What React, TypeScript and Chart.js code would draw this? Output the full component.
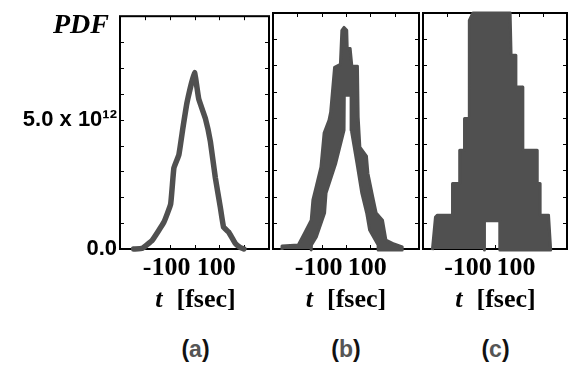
import React, { useEffect, useRef } from "react";
import { Chart, registerables } from "chart.js";

Chart.register(...registerables);

// ---------- data (t in fsec, PDF in units of 10^12) ----------
const UNIT = 1e12;

// panel (a): smooth PDF
const aT = [-245, -210, -170, -123, -96, -83, -63, -47, -30, 0, 17, 44, 64, 84, 104, 117, 137, 164, 184, 199];
const aPdf = [0, 0.03, 0.34, 1.04, 1.74, 3.13, 3.64, 4.66, 5.67, 6.82, 5.8, 5.04, 4.15, 2.75, 1.61, 0.85, 0.66, 0.22, 0.06, 0];

// panel (b): outline of the jagged band (outer edge, then inner edge)
const bT = [-263, -263, -196, -170, -143, -136, -123, -103, -90, -70, -63, -47, -23, -17, -8, 3, 5, 17, 24, 47, 50, 57, 84, 90, 110, 124, 150, 164, 197, 231, 231,
  132, 132, 97, 85, 65, 45, 22, 21, -7, -8, -42, -82, -88, -122, -142, -143];
const bPdf = [-0.04, 0.11, 0.15, 0.61, 1.10, 1.87, 2.36, 3.12, 4.42, 4.91, 5.22, 6.93, 7.04, 8.34, 8.45, 8.34, 7.65, 7.65, 6.97, 6.97, 5.03, 3.88, 3.54, 2.89, 1.98, 1.37, 1.10, 0.34, 0.19, 0.08, -0.04,
  -0.04, 0.15, 0.72, 1.37, 2.13, 3.27, 4.53, 5.86, 5.86, 4.53, 3.27, 2.13, 1.37, 0.46, 0.15, -0.04];

// panel (c): outline of the stepped filled envelope, with the gap near the base
const cT = [-261, -248, -240, -177, -177, -147, -147, -127, -127, -107, -107, -92, 63, 67, 67, 87, 87, 113, 116, 176, 176, 188, 188, 223, 232,
  20, 20, -44, -44];
const cPdf = [-0.04, 1.22, 1.29, 1.29, 2.50, 2.50, 3.77, 3.77, 4.98, 4.98, 8.72, 9.0, 9.0, 7.39, 7.39, 7.39, 6.18, 6.18, 3.77, 3.77, 2.50, 2.50, 1.29, 1.29, -0.04,
  -0.04, 1.08, 1.08, -0.04];

const xTickLabels: Record<string, string> = { "-100": "-100", "100": "100" };
const yTickLabels: Record<string, string> = { "0": "0.0", "5": "5.0 x 10\u00B9\u00B2" };
const panelLetters = ["a", "b", "c"];

// ---------- layout ----------
const GRAY = "#505050";
const PANELS = [
  { left: 120, right: 271 },
  { left: 271, right: 421 },
  { left: 421, right: 570 },
];
const AREA_TOP = 13;
const AREA_BOTTOM = 249;
const CANVAS_H = 300;

const framePlugin = {
  id: "frameTicks",
  beforeDatasetsDraw(chart: any) {
    const { ctx, chartArea: a, scales } = chart;
    ctx.save();
    ctx.strokeStyle = "#000";
    ctx.lineWidth = 2;
    ctx.strokeRect(a.left, a.top, a.right - a.left, a.bottom - a.top);
    ctx.lineWidth = 1;
    ctx.beginPath();
    for (const t of scales.x.ticks) {
      const px = Math.round(scales.x.getPixelForValue(t.value)) + 0.5;
      ctx.moveTo(px, a.bottom);
      ctx.lineTo(px, a.bottom - 4);
      ctx.moveTo(px, a.top);
      ctx.lineTo(px, a.top + 4);
    }
    for (const t of scales.y.ticks) {
      const py = Math.round(scales.y.getPixelForValue(t.value)) + 0.5;
      ctx.moveTo(a.left, py);
      ctx.lineTo(a.left + 4, py);
      ctx.moveTo(a.right, py);
      ctx.lineTo(a.right - 4, py);
    }
    ctx.stroke();
    ctx.restore();
  },
};

type PanelProps = { index: number; ts: number[]; vals: number[]; shape: boolean };

function Panel({ index, ts, vals, shape }: PanelProps) {
  const ref = useRef<HTMLCanvasElement | null>(null);
  const p = PANELS[index];
  const showY = index === 0;
  const canvasLeft = showY ? 0 : p.left - 2;
  const canvasRight = Math.min(p.right + 2, 571);
  const canvasW = canvasRight - canvasLeft;
  const yAxisW = p.left - canvasLeft;
  const padRight = canvasRight - p.right;

  useEffect(() => {
    if (!ref.current) return;
    const points = ts.map((t, i) => ({ x: t, y: vals[i] * UNIT }));
    const dataset: any = shape
      ? {
          data: points,
          borderColor: GRAY,
          backgroundColor: GRAY,
          borderWidth: 3,
          borderJoinStyle: "round",
          fill: "shape",
          pointRadius: 0,
          tension: 0,
          clip: false,
        }
      : {
          data: points,
          borderColor: GRAY,
          borderWidth: 5.5,
          borderJoinStyle: "round",
          borderCapStyle: "round",
          fill: false,
          pointRadius: 0,
          tension: 0.1,
          clip: false,
        };
    const chart = new Chart(ref.current, {
      type: "line",
      data: { datasets: [dataset] },
      options: {
        animation: false,
        responsive: false,
        events: [],
        layout: { padding: { top: AREA_TOP, right: padRight, left: 0, bottom: 0 }, autoPadding: false },
        plugins: { legend: { display: false }, tooltip: { enabled: false } },
        scales: {
          x: {
            type: "linear",
            min: -300,
            max: 300,
            grid: { display: false, drawTicks: false },
            border: { display: false },
            afterFit: (s: any) => {
              s.height = CANVAS_H - AREA_BOTTOM;
            },
            ticks: {
              stepSize: 100,
              autoSkip: false,
              maxRotation: 0,
              padding: 4,
              labelOffset: -3,
              color: "#000",
              font: { family: "'Liberation Serif', 'Times New Roman', serif", size: 26, weight: "bold" },
              callback: (v: any) => xTickLabels[String(v)] ?? "",
            },
          },
          y: {
            type: "linear",
            min: 0,
            max: 9 * UNIT,
            grid: { display: false, drawTicks: false },
            border: { display: false },
            afterFit: (s: any) => {
              s.width = yAxisW;
            },
            ticks: {
              stepSize: UNIT,
              autoSkip: false,
              display: showY,
              padding: 3,
              color: "#000",
              font: { family: "'Liberation Sans', Arial, sans-serif", size: 22, weight: "bold" },
              callback: (v: any) => yTickLabels[String(Math.round(Number(v) / UNIT))] ?? "",
            },
          },
        },
      } as any,
      plugins: [framePlugin],
    });
    return () => chart.destroy();
  }, []);

  return (
    <canvas
      ref={ref}
      width={canvasW}
      height={CANVAS_H}
      style={{ position: "absolute", left: canvasLeft, top: 0, width: canvasW, height: CANVAS_H }}
    />
  );
}

export default function App() {
  const centers = PANELS.map((p) => (p.left + p.right) / 2);
  return (
    <div
      style={{
        position: "fixed",
        left: 0,
        top: 0,
        width: 571,
        height: 373,
        overflow: "hidden",
        background: "#fff",
      }}
    >
      <Panel index={0} ts={aT} vals={aPdf} shape={false} />
      <Panel index={1} ts={bT} vals={bPdf} shape={true} />
      <Panel index={2} ts={cT} vals={cPdf} shape={true} />
      <div
        style={{
          position: "absolute",
          left: 53,
          top: 10,
          fontFamily: "'Liberation Serif', serif",
          fontWeight: "bold",
          fontStyle: "italic",
          fontSize: 28,
          lineHeight: "28px",
          whiteSpace: "nowrap",
        }}
      >
        PDF
      </div>
      {centers.map((c, i) => (
        <div
          key={"t" + i}
          style={{
            position: "absolute",
            left: c - 60,
            width: 120,
            top: 286,
            textAlign: "center",
            fontFamily: "'Liberation Serif', serif",
            fontWeight: "bold",
            fontSize: 26,
            lineHeight: "26px",
            whiteSpace: "nowrap",
          }}
        >
          <i>t</i>
          <span style={{ marginLeft: 14 }}>[fsec]</span>
        </div>
      ))}
      {centers.map((c, i) => (
        <div
          key={"l" + i}
          style={{
            position: "absolute",
            left: c - 40,
            width: 80,
            top: 338,
            textAlign: "center",
            fontFamily: "'Liberation Sans', Arial, sans-serif",
            fontWeight: "bold",
            fontSize: 23,
            lineHeight: "23px",
            whiteSpace: "nowrap",
            color: "#111",
          }}
        >
          (<span style={{ color: "#555" }}>{panelLetters[i]}</span>)
        </div>
      ))}
    </div>
  );
}
